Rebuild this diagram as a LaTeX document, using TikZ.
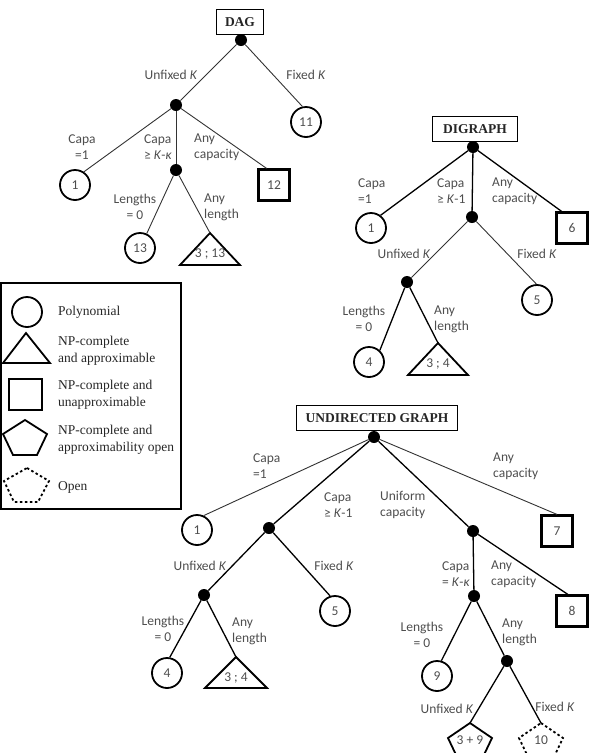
\documentclass[tikz,border=0pt]{standalone}
\usepackage{fontspec}
\setmainfont{Liberation Serif}
\newfontfamily\labfont{Carlito}
\usetikzlibrary{calc}
\definecolor{lbl}{RGB}{78,78,78}
\begin{document}
\begin{tikzpicture}[x=1pt,y=-1pt,
  lab/.style={font=\labfont\fontsize{13.5}{16}\selectfont, text=lbl, inner sep=0pt, align=left},
  labc/.style={lab, align=center},
  bdot/.style={circle, fill=black, inner sep=0pt, minimum size=12pt},
  numtxt/.style={font=\labfont\fontsize{13.5}{16}\selectfont, text=lbl, inner sep=0pt},
  circ/.style={numtxt, circle, draw, line width=1.8pt, minimum size=30pt},
  sq/.style={numtxt, rectangle, draw=black, line width=2.2pt, minimum size=31pt},
  ttl/.style={draw, line width=1.2pt, font=\bfseries\fontsize{13.5}{16}\selectfont, text=black!85, inner sep=0pt, minimum height=25pt},
  shp/.style={line width=1.8pt},
  conn/.style={line width=0.9pt, draw=black!80},
  connb/.style={line width=1.3pt, draw=black},
  legtxt/.style={font=\fontsize{13.5}{17}\selectfont, text=black!85, inner sep=0pt, align=left, anchor=west},
]
\clip (0,0) rectangle (594,753);

% ---------------- DAG ----------------
\node[ttl, minimum width=47pt] (dag) at (240,22) {DAG};
\node[bdot] (r1) at (241,40) {};
\node[bdot] (u1) at (176,105) {};
\node[circ] (c11) at (306,122) {11};
\node[circ] (c1a) at (75,185) {1};
\node[bdot] (d1) at (176,170) {};
\node[sq] (s12) at (274,185) {12};
\node[circ] (c13) at (140,248) {13};
\node[numtxt] (t13) at (210,254) {3 ; 13};
\coordinate (t13top) at (210,233);
\draw[shp] (t13top) -- ++(30,32) -- ++(-60,0) -- cycle;

\draw[conn] (r1) -- (u1);
\draw[conn] (r1) -- (c11.103);
\draw[conn] (u1) -- (c1a.56);
\draw[conn] (u1) -- (d1);
\draw[conn] (u1) -- (s12.114);
\draw[conn] (d1) -- (c13.65);
\draw[conn] (d1) -- (t13top);

\node[lab, anchor=center] (l1) at (171,75) {Unfixed \textit{K}};
\node[lab, anchor=center] (l2) at (306,75) {Fixed \textit{K}};
\node[labc] (l3) at (82,147) {Capa\\=1};
\node[lab, anchor=west] (l4) at (144,147) {Capa\\≥ \textit{K}-\textit{κ}};
\node[lab, anchor=west] (l5) at (194,147) {Any\\capacity};
\node[labc] (l6) at (135,207) {Lengths\\= 0};
\node[lab, anchor=west] (l7) at (204,207) {Any\\length};

% ---------------- DIGRAPH ----------------
\node[ttl, minimum width=85pt] (dig) at (475,129) {DIGRAPH};
\node[bdot] (r2) at (473,147) {};
\node[circ] (c1b) at (371,228) {1};
\node[bdot] (d2) at (472,217) {};
\node[sq] (s6) at (572,228) {6};
\node[bdot] (d3) at (407,282) {};
\node[circ] (c5a) at (537,300) {5};
\node[circ] (c4a) at (369,362) {4};
\node[numtxt] (t4a) at (438,364) {3 ; 4};
\coordinate (t4atop) at (438,343);
\draw[shp] (t4atop) -- ++(30,32) -- ++(-60,0) -- cycle;

\draw[connb] (r2) -- (c1b.53);
\draw[connb] (r2) -- (d2);
\draw[connb] (r2) -- (s6.122);
\draw[conn] (d2) -- (d3);
\draw[conn] (d2) -- (c5a.92);
\draw[connb] (d3) -- (c4a.47);
\draw[connb] (d3) -- (t4atop);

\node[lab, anchor=west] (m1) at (358,191) {Capa\\=1};
\node[lab, anchor=west] (m2) at (437,191) {Capa\\≥ \textit{K}-1};
\node[lab, anchor=west] (m3) at (492,191) {Any\\capacity};
\node[lab, anchor=center] (m4) at (404,254) {Unfixed \textit{K}};
\node[lab, anchor=center] (m5) at (537,254) {Fixed \textit{K}};
\node[labc] (m6) at (364,319) {Lengths\\= 0};
\node[lab, anchor=west] (m7) at (434,319) {Any\\length};

% ---------------- LEGEND ----------------
\draw[line width=1.5pt] (1,283) rectangle (181,509);
\node[circ] (lgc) at (27,312) {};
\coordinate (lgt) at (26,333);
\draw[shp] (lgt) -- ++(24,30) -- ++(-47,0) -- cycle;
\node[draw, line width=1.8pt, minimum width=33pt, minimum height=31pt, inner sep=0pt] (lgs) at (25.5,394.5) {};
\coordinate (lgp) at (25,420);
\draw[shp] (lgp) -- ++(22,14) -- ++(-10,21) -- ++(-24,0) -- ++(-10,-21) -- cycle;
\coordinate (lgo) at (27,468);
\draw[shp, dash pattern=on 2.5pt off 2.5pt] (lgo) -- ++(22,13) -- ++(-11,21) -- ++(-24,0) -- ++(-10,-21) -- cycle;
\node[legtxt] (g1) at (58,312) {Polynomial};
\node[legtxt] (g2) at (58,351) {NP-complete\\and approximable};
\node[legtxt] (g3) at (58,395) {NP-complete and\\unapproximable};
\node[legtxt] (g4) at (58,440) {NP-complete and\\approximability open};
\node[legtxt] (g5) at (58,487) {Open};

% ---------------- UNDIRECTED GRAPH ----------------
\node[ttl, minimum width=161pt] (und) at (377,418) {UNDIRECTED GRAPH};
\node[bdot] (r3) at (374,437) {};
\node[circ] (c1c) at (197,530) {1};
\node[bdot] (dL) at (269,528) {};
\node[bdot] (dR) at (473,531) {};
\node[sq] (s7) at (557,531) {7};
\node[bdot] (dLL) at (204,595) {};
\node[circ] (c5b) at (335,611) {5};
\node[bdot] (dRR) at (474,596) {};
\node[sq] (s8) at (572,611) {8};
\node[circ] (c4b) at (167,673) {4};
\node[numtxt] (t4b) at (236,678) {3 ; 4};
\coordinate (t4btop) at (236,657);
\draw[shp] (t4btop) -- ++(31,31) -- ++(-62,0) -- cycle;
\node[circ] (c9) at (437,676) {9};
\node[bdot] (dA) at (507,661) {};
\node[numtxt] (p39) at (470,740) {3 + 9};
\coordinate (p39top) at (470,723);
\draw[shp] (p39top) -- ++(22,15) -- ++(-10,21) -- ++(-24,0) -- ++(-10,-21) -- cycle;
\node[numtxt] (p10) at (541,740) {10};
\coordinate (p10top) at (541,723);
\draw[shp, dash pattern=on 2.5pt off 2.5pt] (p10top) -- ++(22,15) -- ++(-10,21) -- ++(-24,0) -- ++(-10,-21) -- cycle;

\draw[conn] (r3) -- (c1c.65);
\draw[connb] (r3) -- (dL);
\draw[connb] (r3) -- (dR);
\draw[conn] (r3) -- (s7.north);
\draw[connb] (dL) -- (dLL);
\draw[connb] (dL) -- (c5b.108);
\draw[connb] (dR) -- (dRR);
\draw[connb] (dR) -- (s8.104);
\draw[connb] (dLL) -- (c4b.80);
\draw[connb] (dLL) -- (t4btop);
\draw[connb] (dRR) -- (c9.74);
\draw[connb] (dRR) -- (dA);
\draw[connb] (dA) -- (p39top);
\draw[connb] (dA) -- (p10top);

\node[lab, anchor=west] (n1) at (253,466) {Capa\\=1};
\node[lab, anchor=west] (n2) at (324,505) {Capa\\≥ \textit{K}-1};
\node[lab, anchor=west] (n3) at (380,505) {Uniform\\capacity};
\node[lab, anchor=west] (n4) at (493,466) {Any\\capacity};
\node[lab, anchor=center] (n5) at (200,566) {Unfixed \textit{K}};
\node[lab, anchor=center] (n6) at (334,566) {Fixed \textit{K}};
\node[lab, anchor=west] (n7) at (442,574) {Capa\\= \textit{K}-\textit{κ}};
\node[lab, anchor=west] (n8) at (491,574) {Any\\capacity};
\node[labc] (n9) at (163,629) {Lengths\\= 0};
\node[lab, anchor=west] (n10) at (232,631) {Any\\length};
\node[labc] (n11) at (422,635) {Lengths\\= 0};
\node[lab, anchor=west] (n12) at (502,632) {Any\\length};
\node[lab, anchor=center] (n13) at (447,709) {Unfixed \textit{K}};
\node[lab, anchor=center] (n14) at (555,707) {Fixed \textit{K}};
\end{tikzpicture}
\end{document}
